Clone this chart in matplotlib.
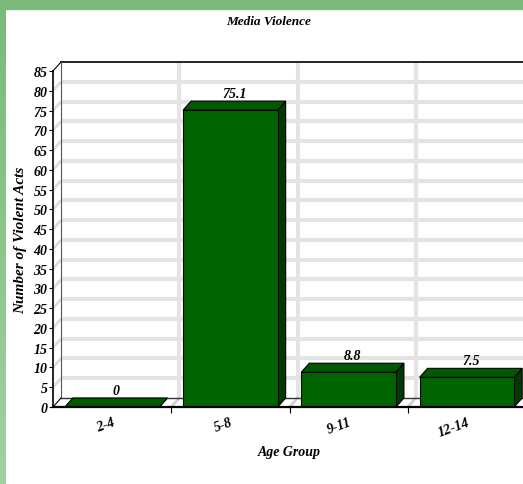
# Media Violence - 3D style bar chart

import numpy as np
import matplotlib
matplotlib.use('Agg')
import matplotlib.pyplot as plt
from matplotlib.patches import Polygon, Rectangle

groups = ['2-4', '5-8', '9-11', '12-14']
acts = [0, 75.1, 8.8, 7.5]
value_labels = ['0', '75.1', '8.8', '7.5']

yticks = np.arange(0, 86, 5)

font = {'family': 'Liberation Serif', 'weight': 'bold', 'style': 'italic'}

fig = plt.figure(figsize=(5.23, 4.85), dpi=100)
fig.patch.set_facecolor('white')

# green frame
fig.patches.append(Rectangle((0, 1 - 10 / 485.), 1, 10 / 485., transform=fig.transFigure,
                             color='#7bba7b', zorder=0))
grad = fig.add_axes([0, 0, 6 / 523., 1 - 10 / 485.])
grad.imshow(np.linspace(0, 1, 100).reshape(-1, 1), aspect='auto',
            cmap=matplotlib.colors.LinearSegmentedColormap.from_list('g', ['#7bba7b', '#a0d1a0']))
grad.axis('off')

ax = fig.add_axes([53 / 523., 77 / 485., 473 / 523., 336 / 485.])
ax.set_xlim(-0.5, 3.5)
ax.set_ylim(0, 85)

x = np.arange(len(groups))
width = 0.8
dx = 8 / 118.25   # depth offset in category units
dz = 9 / 3.953    # depth offset in value units

# back wall
ax.add_patch(Rectangle((-0.5 + dx, dz), 4, 85, facecolor='white', edgecolor='none',
                       zorder=0, clip_on=False))
for v in yticks[1:-1]:
    ax.plot([-0.5 + dx, 3.5 + dx], [v + dz, v + dz], color='#e4e4e4', lw=3,
            zorder=1, clip_on=False, solid_capstyle='butt')
    ax.plot([-0.5, -0.5 + dx], [v, v + dz], color='#dcdcdc', lw=2,
            zorder=1, clip_on=False, solid_capstyle='butt')
for b in x[:-1] + 0.5:
    ax.plot([b + dx, b + dx], [dz, 85 + dz], color='#e4e4e4', lw=3,
            zorder=1, clip_on=False, solid_capstyle='butt')
    ax.plot([b, b + dx], [0, dz], color='#d0d0d0', lw=2, zorder=1, clip_on=False)
# wall frame
ax.plot([-0.5 + dx, 3.5 + dx], [85 + dz, 85 + dz], color='black', lw=1.2, zorder=2, clip_on=False)
ax.plot([-0.5, -0.5 + dx], [85, 85 + dz], color='black', lw=0.8, zorder=2, clip_on=False)
ax.plot([-0.5 + dx, -0.5 + dx], [dz, 85 + dz], color='#555555', lw=0.8, zorder=2, clip_on=False)
ax.plot([-0.5 + dx, 3.5 + dx], [dz, dz], color='#333333', lw=1, zorder=2, clip_on=False)
ax.plot([-0.5, -0.5 + dx], [0, dz], color='black', lw=0.8, zorder=2, clip_on=False)

# bars
for xi, h in zip(x, acts):
    x0, x1 = xi - width / 2, xi + width / 2
    ax.add_patch(Polygon([(x1, 0), (x1 + dx, dz), (x1 + dx, h + dz), (x1, h)],
                         facecolor='#003a00', edgecolor='black', lw=0.8, zorder=3, clip_on=False))
    ax.add_patch(Polygon([(x0, h), (x1, h), (x1 + dx, h + dz), (x0 + dx, h + dz)],
                         facecolor='#005800', edgecolor='black', lw=0.8, zorder=3, clip_on=False))
ax.bar(x, acts, width, color='#006400', edgecolor='black', lw=0.8, zorder=4)

for xi, h, s in zip(x, acts, value_labels):
    ax.annotate(s, (xi + dx / 2, h + dz), xytext=(0, 3), textcoords='offset points',
                ha='center', va='baseline', fontsize=10, zorder=5, **font)

# axes styling
for side in ['top', 'right']:
    ax.spines[side].set_visible(False)
ax.spines['left'].set_linewidth(1.2)
ax.spines['bottom'].set_linewidth(1.6)
ax.spines['left'].set_zorder(6)
ax.spines['bottom'].set_zorder(6)
ax.patch.set_visible(False)

ax.set_yticks(yticks)
ax.set_yticklabels([str(v) for v in yticks], **font, fontsize=10)
ax.tick_params(axis='y', length=3, width=0.8, pad=1)

ax.set_xticks(x)
ax.set_xticks(x[:-1] + 0.5, minor=True)
ax.tick_params(axis='x', which='major', length=0, pad=6)
ax.tick_params(axis='x', which='minor', length=4, width=0.8)
ax.set_xticklabels(groups, rotation=20, ha='right', rotation_mode='anchor', fontsize=10, **font)

ax.set_xlabel('Age Group', fontsize=10, **font)
ax.xaxis.set_label_coords(236 / 473., -38 / 336.)
ax.set_ylabel('Number of Violent Acts', fontsize=11, **font)
ax.yaxis.set_label_coords(-26 / 473., 0.5)

fig.text(269 / 523., 1 - 22 / 485., 'Media Violence', ha='center', va='center', fontsize=9.5, **font)

plt.savefig('out.png', dpi=100)
